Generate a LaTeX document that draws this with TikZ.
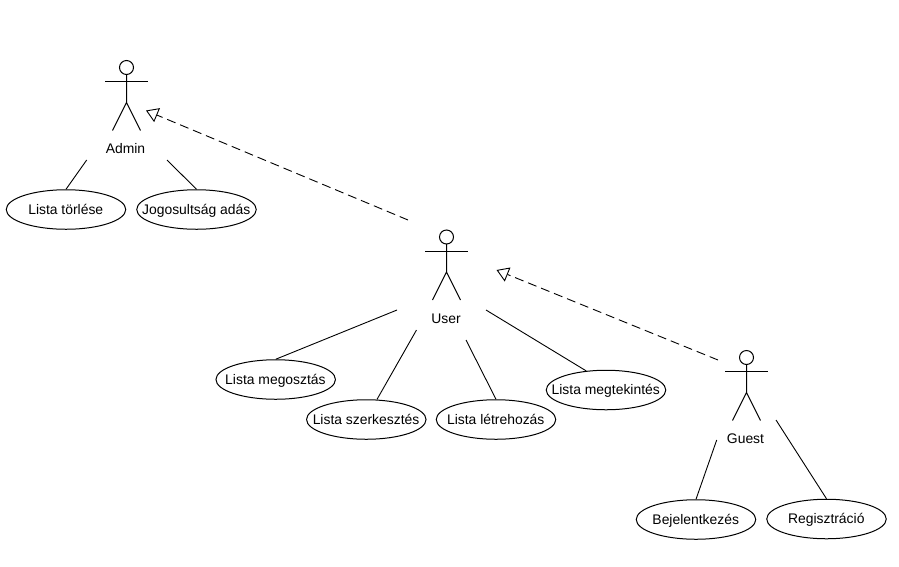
\documentclass[tikz,border=0pt]{standalone}
\usepackage{fontspec}
\setmainfont{Liberation Sans}
\usetikzlibrary{arrows.meta,shapes.geometric}
\newcommand{\uctext}[1]{\hspace*{-0.5pt}\makebox[0pt][c]{\raisebox{-0.35em}[0pt][0pt]{#1}}}
\tikzset{
  x=1pt,y=-1pt,
  usecase/.style={draw,ellipse,line width=1pt,minimum width=119.5pt,minimum height=39.5pt,inner sep=0pt,font=\fontsize{13.9}{16}\selectfont},
  actorlabel/.style={inner sep=0pt,font=\fontsize{13.9}{16}\selectfont},
  assoc/.style={draw,line width=0.9pt},
  inherit/.style={draw,line width=0.9pt,dash pattern=on 9pt off 5pt,-{Triangle[open,length=12pt,width=15pt,fill=white]}},
  actor/.pic={
    \draw[line width=1pt] (0,-14) circle[radius=7];
    \draw[line width=1pt] (-21.5,0) -- (21.5,0);
    \draw[line width=1pt] (0,-7) -- (0,21) (-14,49) -- (0,21) -- (14,49);
  }
}
\begin{document}
\begin{tikzpicture}
\useasboundingbox (0,0) rectangle (899,566);
\fill[white] (0,0) rectangle (899,566);

\pic at (126.5,81.5) {actor};
\pic at (446.5,251) {actor};
\pic at (746.5,371.5) {actor};
\node[actorlabel] (admin) at (125.5,148.6) {Admin};
\node[actorlabel] (user) at (446,318.6) {User};
\node[actorlabel] (guest) at (745.5,438.6) {Guest};

\node[usecase] (torles) at (66,209.5) {\uctext{Lista törlése}};
\node[usecase] (jog) at (196.5,209.5) {\uctext{Jogosultság adás}};
\node[usecase] (megoszt) at (275.7,379.5) {\uctext{Lista megosztás}};
\node[usecase] (szerk) at (366.3,419.5) {\uctext{Lista szerkesztés}};
\node[usecase] (letre) at (496,419.5) {\uctext{Lista létrehozás}};
\node[usecase] (megtek) at (606,390) {\uctext{Lista megtekintés}};
\node[usecase] (bej) at (696,519.5) {\uctext{Bejelentkezés}};
\node[usecase] (reg) at (826.5,519) {\uctext{Regisztráció}};

\coordinate (a1) at (86.7,160);
\coordinate (a2) at (167,160);
\coordinate (u1) at (397,310);
\coordinate (u2) at (416.5,330);
\coordinate (u3) at (466,340);
\coordinate (u4) at (486,310);
\coordinate (g1) at (716.7,440);
\coordinate (g2) at (776,420);
\coordinate (tipA) at (146,110.5);
\coordinate (fromU) at (408,220);
\coordinate (tipU) at (496.5,270);
\coordinate (fromG) at (718,360);

\draw[assoc] (a1) -- (torles.north);
\draw[assoc] (a2) -- (jog.north);
\draw[assoc] (u1) -- (megoszt.north);
\draw[assoc] (u2) -- (szerk.62);
\draw[assoc] (u3) -- (letre.north);
\draw[assoc] (u4) -- (megtek.136);
\draw[assoc] (g1) -- (bej.north);
\draw[assoc] (g2) -- (reg.north);
\draw[inherit] (fromU) -- (tipA);
\draw[inherit] (fromG) -- (tipU);
\end{tikzpicture}
\end{document}
